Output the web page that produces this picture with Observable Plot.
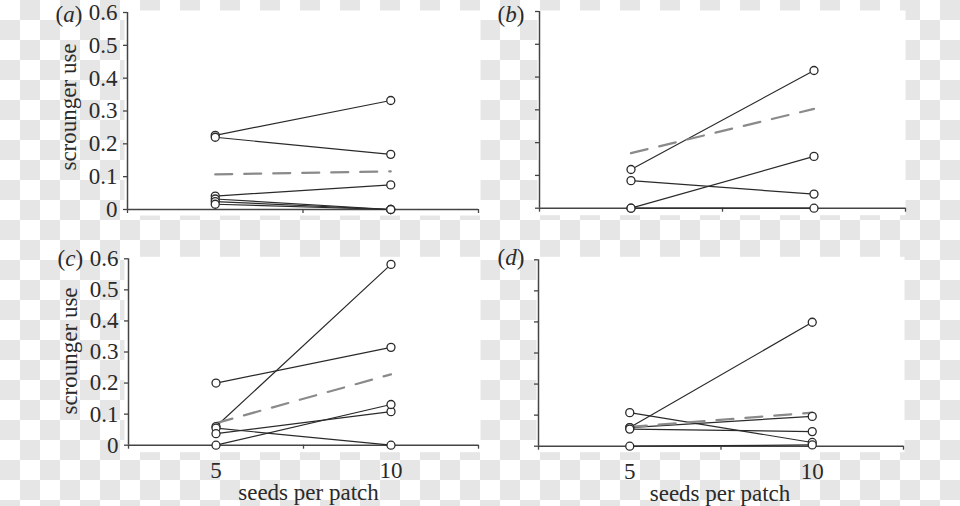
<!DOCTYPE html>
<html>
<head>
<meta charset="utf-8">
<script src="https://cdn.jsdelivr.net/npm/d3@7"></script>
<script src="https://cdn.jsdelivr.net/npm/@observablehq/plot@0.6"></script>
<style>
html, body { margin: 0; padding: 0; }
body { width: 960px; height: 506px; overflow: hidden; position: relative; background: transparent; }
#checker { position: absolute; left: 0; top: 0; z-index: 0; }
#chart { position: absolute; left: 0; top: 0; width: 960px; height: 506px; z-index: 1; background: transparent; }
.panel { position: absolute; background: transparent; }
.panel svg { background: transparent !important; }
.panel svg text, .panel svg tspan { font-family: 'Liberation Serif', 'Times New Roman', serif !important; }
</style>
</head>
<body>
<div id="checker"></div>
<div id="chart"></div>
<script>
// ---- data ----
const seeds = [5, 10];
const xTickMarks = [2.5, 7.5, 12.5];
const xTickLabels = [5, 10];
const yTicks = [0, 0.1, 0.2, 0.3, 0.4, 0.5, 0.6];
const yLabel = "scrounger use";
const xLabel = "seeds per patch";

// panel (a)
const aAt5  = [0.226, 0.220, 0.041, 0.032, 0.024, 0.016];
const aAt10 = [0.332, 0.168, 0.075, 0.000, 0.000, 0.000];
const aMean = [0.107, 0.116];
// panel (b)
const bAt5  = [0.118, 0.084, 0.000, 0.000];
const bAt10 = [0.420, 0.043, 0.158, 0.000];
const bMean = [0.168, 0.303];
// panel (c)
const cAt5  = [0.200, 0.060, 0.055, 0.037, 0.000];
const cAt10 = [0.315, 0.582, 0.000, 0.108, 0.131];
const cMean = [0.071, 0.228];
// panel (d)
const dAt5  = [0.108, 0.060, 0.060, 0.055, 0.000];
const dAt10 = [0.012, 0.399, 0.096, 0.047, 0.004];
const dMean = [0.062, 0.108];

const FONT = "'Liberation Serif', 'Times New Roman', serif";
const INK = "#2a2a2a";
const AXIS = "#444";

// transparent-background checkerboard behind the figure (page decoration)
(function drawChecker() {
  const host = document.getElementById("checker");
  const ns = "http://www.w3.org/2000/svg";
  const s = document.createElementNS(ns, "svg");
  s.setAttribute("width", 960); s.setAttribute("height", 506);
  const bg = document.createElementNS(ns, "rect");
  bg.setAttribute("width", 960); bg.setAttribute("height", 506); bg.setAttribute("fill", "#ffffff");
  s.appendChild(bg);
  for (let r = 0; r * 20 < 506; r++) {
    for (let c = 0; c * 20 < 960; c++) {
      if ((r + c) % 2 === 1) {
        const q = document.createElementNS(ns, "rect");
        q.setAttribute("x", c * 20); q.setAttribute("y", r * 20);
        q.setAttribute("width", 20); q.setAttribute("height", 20);
        q.setAttribute("fill", "#e6e6e6");
        s.appendChild(q);
      }
    }
  }
  host.appendChild(s);
})();

function rowsOf(at5, at10) {
  return at5.flatMap((v, i) => [
    {seeds: seeds[0], use: v, id: i},
    {seeds: seeds[1], use: at10[i], id: i}
  ]);
}
function meanRows(m) {
  return seeds.map((s, i) => ({seeds: s, use: m[i]}));
}

function panel(cfg) {
  const rows = rowsOf(cfg.at5, cfg.at10);
  const txt = {fontSize: 23, fontFamily: FONT, fill: INK};
  const marks = [
    Plot.frame({fill: "white", stroke: null, ...cfg.white}),
    Plot.ruleX([2.5], {stroke: AXIS, strokeWidth: 1.5}),
    Plot.ruleY([0], {stroke: AXIS, strokeWidth: 1.5}),
    Plot.axisY(yTicks, {
      tickSize: 4, tickPadding: 6, label: null, ...txt, stroke: AXIS, strokeWidth: 1.3,
      tickFormat: cfg.showY ? (d => d === 0 ? "0" : d.toFixed(1)) : (() => "")
    }),
    Plot.axisX(xTickMarks, {tickSize: 4, tickPadding: 2, label: null, stroke: AXIS, strokeWidth: 1.3, tickFormat: () => ""}),
    Plot.line(rows, {x: "seeds", y: "use", z: "id", stroke: INK, strokeWidth: 1.2}),
    Plot.line(meanRows(cfg.mean), {x: "seeds", y: "use", stroke: "#8a8a8a", strokeWidth: 2.2, strokeDasharray: "17,12"}),
    Plot.dot(rows, {x: "seeds", y: "use", r: 4, fill: "white", stroke: INK, strokeWidth: 1.3}),
    Plot.text([cfg.tag], {text: d => d, frameAnchor: "top-left", dx: cfg.tagDx, dy: cfg.tagDy,
      textAnchor: "start", lineAnchor: "bottom", ...txt})
  ];
  if (cfg.showY) {
    marks.push(Plot.text([yLabel], {text: d => d, frameAnchor: "left", rotate: -90, dx: -52, dy: cfg.yLabDy,
      textAnchor: "middle", lineAnchor: "bottom", ...txt}));
  }
  if (cfg.showX) {
    marks.push(Plot.text(xTickLabels, {x: d => d, text: d => String(d), frameAnchor: "bottom", dy: 33,
      textAnchor: "middle", lineAnchor: "bottom", ...txt}));
    marks.push(Plot.text([xLabel], {text: d => d, frameAnchor: "bottom", dx: cfg.xLabDx, dy: 55,
      textAnchor: "middle", lineAnchor: "bottom", ...txt}));
  }
  const svg = Plot.plot({
    width: cfg.width, height: cfg.height,
    marginLeft: cfg.ml, marginRight: cfg.mr, marginTop: cfg.mt, marginBottom: cfg.mb,
    x: {domain: [2.5, 12.5], label: null},
    y: {domain: [0, 0.6], label: null},
    style: {fontFamily: FONT, fontSize: "23px", color: INK, overflow: "visible"},
    marks
  });
  svg.style.setProperty("background", "transparent", "important");
  // italic letter inside the panel tag, upright parentheses
  svg.querySelectorAll("text").forEach(t => {
    if (t.textContent === cfg.tag) {
      const letter = cfg.tag.slice(1, -1);
      t.textContent = "";
      t.appendChild(document.createTextNode("("));
      const ts = document.createElementNS("http://www.w3.org/2000/svg", "tspan");
      ts.setAttribute("font-style", "italic");
      ts.textContent = letter;
      t.appendChild(ts);
      t.appendChild(document.createTextNode(")"));
    }
  });
  const wrap = document.createElement("div");
  wrap.className = "panel";
  wrap.style.left = cfg.left + "px";
  wrap.style.top = cfg.top + "px";
  wrap.appendChild(svg);
  document.getElementById("chart").appendChild(wrap);
}

panel({tag: "(a)", at5: aAt5, at10: aAt10, mean: aMean, showY: true, showX: false,
  left: 0, top: 0, width: 480, height: 232, ml: 127, mr: 2, mt: 12, mb: 23,
  white: {insetLeft: -3, insetRight: -2, insetTop: -2, insetBottom: -6},
  tagDx: -72, tagDy: 9, yLabDy: -4});
panel({tag: "(b)", at5: bAt5, at10: bAt10, mean: bMean, showY: false, showX: false,
  left: 480, top: 0, width: 480, height: 232, ml: 59, mr: 55, mt: 11, mb: 24.3,
  white: {insetLeft: -2, insetRight: 0, insetTop: -1, insetBottom: -7},
  tagDx: -42, tagDy: 10});
panel({tag: "(c)", at5: cAt5, at10: cAt10, mean: cMean, showY: true, showX: true,
  left: 0, top: 236, width: 480, height: 270, ml: 128, mr: 2, mt: 22.3, mb: 61.3,
  white: {insetLeft: -4, insetRight: -2, insetTop: -2, insetBottom: -7},
  tagDx: -71, tagDy: 7.5, yLabDy: -1, xLabDx: 5});
panel({tag: "(d)", at5: dAt5, at10: dAt10, mean: dMean, showY: false, showX: true,
  left: 480, top: 236, width: 480, height: 270, ml: 58, mr: 57, mt: 23.3, mb: 60.3,
  white: {insetLeft: -2, insetRight: -1, insetTop: -3, insetBottom: -6},
  tagDx: -41, tagDy: 5, xLabDx: -1});
</script>
</body>
</html>
